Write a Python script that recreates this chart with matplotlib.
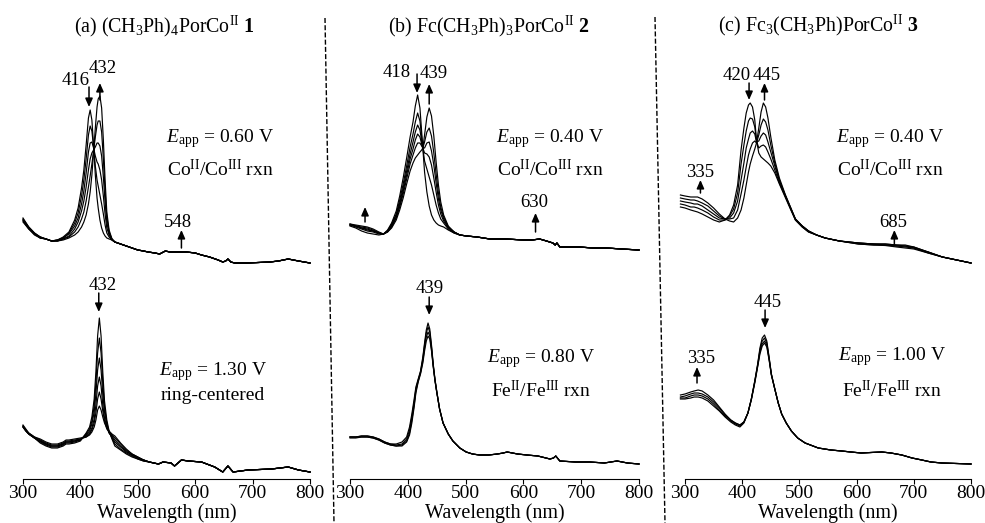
import matplotlib
matplotlib.use("Agg")
import matplotlib.pyplot as plt
from matplotlib.lines import Line2D

plt.rcParams['font.family'] = ['Liberation Serif', 'DejaVu Serif']
plt.rcParams['mathtext.fontset'] = 'custom'
plt.rcParams['mathtext.rm'] = 'Liberation Serif'
plt.rcParams['mathtext.it'] = 'Liberation Serif:italic'
plt.rcParams['mathtext.bf'] = 'Liberation Serif:bold'

# ---------------- data (absorbance, arbitrary units) ----------------
# (a) top: E = 0.60 V, Co(II)/Co(III)
wl_a_top = [300, 310, 320, 330, 340, 350, 360, 370, 380, 390, 396, 402, 406, 410, 414, 417,
            420, 423, 426, 429, 431, 434, 437, 440, 443, 446, 450, 455]
a_top = [
    [.52, .43, .37, .33, .31, .29, .30, .33, .38, .50, .62, .82, 1.00, 1.25, 1.52, 1.60,
     1.50, 1.24, .95, .72, .62, .50, .42, .37, .34, .32, .31, .30],
    [.51, .43, .37, .33, .31, .29, .30, .32, .37, .47, .57, .74, .90, 1.11, 1.35, 1.44,
     1.39, 1.23, 1.04, .90, .84, .75, .66, .56, .45, .37, .33, .30],
    [.50, .42, .36, .33, .31, .29, .30, .32, .36, .44, .52, .66, .79, .97, 1.18, 1.27,
     1.28, 1.22, 1.14, 1.08, 1.06, 1.00, .90, .74, .56, .42, .35, .30],
    [.50, .42, .36, .32, .31, .29, .29, .31, .34, .41, .48, .59, .69, .83, 1.00, 1.11,
     1.17, 1.20, 1.23, 1.27, 1.27, 1.24, 1.14, .93, .68, .48, .36, .31],
    [.49, .41, .36, .32, .31, .29, .29, .31, .33, .38, .43, .51, .58, .69, .83, .94,
     1.06, 1.19, 1.33, 1.45, 1.49, 1.49, 1.38, 1.11, .79, .53, .38, .31],
    [.48, .41, .35, .32, .31, .29, .29, .30, .32, .35, .38, .43, .48, .55, .66, .78,
     .95, 1.18, 1.42, 1.63, 1.71, 1.74, 1.62, 1.30, .90, .58, .40, .31],
]
wl_a_top_tail = [460, 470, 480, 490, 500, 510, 518, 530, 538, 548, 556, 570, 585, 600, 611,
                 625, 640, 648, 653, 657, 662, 669, 690, 710, 730, 745, 762, 780, 800]
a_top_tail = [.28, .26, .24, .22, .20, .19, .18, .17, .16, .19, .18, .18, .18, .17, .15,
              .13, .10, .08, .09, .11, .08, .07, .07, .075, .08, .09, .11, .09, .07]

# (a) bottom: E = 1.30 V, ring-centered
wl_a_bot = [300, 305, 310, 320, 330, 340, 350, 360, 370, 375, 380, 390, 400, 410, 416, 420,
            424, 427, 430, 433, 436, 439, 442, 446, 450, 455, 460, 470, 480, 490, 500, 510, 520]
a_bot = [
    [.52, .48, .45, .41, .36, .33, .31, .31, .33, .35, .35, .36, .38, .46, .52, .62,
     .80, 1.07, 1.43, 1.61, 1.43, 1.07, .78, .59, .48, .40, .33, .29, .25, .22, .20, .18, .17],
    [.52, .48, .45, .41, .37, .34, .32, .32, .34, .36, .36, .37, .39, .45, .50, .58,
     .73, .96, 1.26, 1.41, 1.26, .96, .72, .56, .47, .41, .35, .30, .26, .23, .20, .18, .17],
    [.52, .48, .45, .41, .38, .35, .33, .33, .35, .37, .37, .38, .39, .44, .48, .55,
     .67, .85, 1.09, 1.21, 1.09, .85, .67, .54, .46, .42, .37, .32, .27, .24, .21, .19, .17],
    [.53, .49, .45, .41, .38, .35, .33, .33, .35, .37, .37, .38, .40, .43, .46, .51,
     .60, .74, .93, 1.02, .93, .74, .61, .52, .46, .43, .39, .33, .28, .24, .21, .19, .17],
    [.53, .49, .46, .42, .39, .36, .34, .34, .36, .38, .38, .39, .40, .42, .45, .49,
     .56, .66, .80, .87, .80, .68, .58, .50, .47, .44, .41, .35, .29, .25, .22, .19, .17],
    [.54, .50, .46, .42, .40, .37, .35, .35, .37, .39, .39, .40, .41, .42, .44, .47,
     .52, .59, .69, .73, .69, .62, .56, .51, .48, .45, .43, .36, .30, .25, .22, .19, .17],
]
wl_a_bot_tail = [536, 544, 558, 564, 576, 588, 611, 634, 648, 657, 666, 692, 733, 762, 780, 800]
a_bot_tail = [.15, .17, .16, .13, .19, .18, .17, .12, .07, .13, .07, .09, .10, .12, .09, .07]

# (b) top: E = 0.40 V, Co(II)/Co(III)
wl_b_top = [300, 310, 320, 330, 340, 350, 358, 365, 372, 380, 386, 392, 398, 404, 409, 413, 417,
            421, 424, 426, 429, 433, 437, 441, 445, 449, 453, 457, 462, 470, 480, 490, 502]
b_top = [
    [.44, .42, .39, .37, .36, .35, .36, .40, .47, .59, .74, .92, 1.12, 1.33, 1.48, 1.64, 1.75,
     1.62, 1.38, 1.22, .98, .78, .64, .55, .50, .47, .45, .44, .43, .40, .37, .35, .34],
    [.45, .43, .41, .39, .38, .36, .36, .39, .46, .56, .70, .86, 1.04, 1.23, 1.36, 1.48, 1.57,
     1.49, 1.33, 1.22, 1.09, 1.01, .93, .85, .75, .65, .57, .51, .47, .41, .37, .35, .34],
    [.45, .44, .42, .40, .39, .37, .36, .39, .45, .55, .67, .82, .99, 1.16, 1.28, 1.38, 1.45,
     1.40, 1.29, 1.22, 1.17, 1.16, 1.13, 1.05, .92, .78, .65, .56, .49, .42, .38, .35, .34],
    [.45, .44, .42, .41, .39, .37, .36, .39, .44, .53, .65, .79, .95, 1.11, 1.21, 1.30, 1.36,
     1.33, 1.26, 1.22, 1.22, 1.27, 1.28, 1.19, 1.05, .87, .71, .60, .51, .43, .38, .35, .34],
    [.46, .44, .43, .42, .40, .37, .36, .38, .43, .52, .63, .76, .91, 1.06, 1.15, 1.22, 1.27,
     1.27, 1.24, 1.22, 1.28, 1.38, 1.42, 1.34, 1.17, .96, .77, .63, .53, .43, .38, .35, .34],
    [.46, .45, .44, .43, .41, .38, .36, .38, .42, .50, .60, .72, .86, .99, 1.07, 1.12, 1.15,
     1.18, 1.20, 1.22, 1.35, 1.53, 1.62, 1.54, 1.34, 1.08, .85, .68, .55, .44, .38, .35, .34],
]
wl_b_top_tail = [520, 542, 570, 600, 615, 628, 640, 651, 655, 658, 663, 680, 697, 720, 744, 770, 800]
b_top_tail = [.33, .31, .31, .30, .30, .31, .29, .27, .25, .27, .23, .23, .23, .22, .22, .21, .20]

# (b) bottom: E = 0.80 V, Fe(II)/Fe(III)
wl_b_bot = [300, 310, 320, 330, 340, 350, 360, 370, 380, 390, 398, 403, 407, 411, 414, 418,
            422, 426, 429, 432, 435, 438, 441, 444, 447, 450]
b_bot = [
    [.42, .42, .43, .43, .42, .40, .37, .35, .35, .37, .42, .52, .65, .80, .92, 1.00,
     1.08, 1.22, 1.36, 1.49, 1.56, 1.50, 1.34, 1.15, 1.00, .88],
    [.42, .42, .43, .43, .42, .40, .37, .35, .34, .35, .40, .49, .62, .77, .90, .99,
     1.07, 1.20, 1.34, 1.46, 1.52, 1.47, 1.32, 1.14, .99, .88],
    [.42, .42, .42, .42, .41, .39, .36, .34, .33, .34, .38, .46, .59, .74, .88, .98,
     1.06, 1.18, 1.31, 1.42, 1.47, 1.43, 1.30, 1.13, .99, .87],
    [.41, .41, .42, .42, .41, .39, .36, .34, .33, .33, .37, .44, .56, .72, .86, .97,
     1.05, 1.16, 1.28, 1.38, 1.43, 1.40, 1.28, 1.12, .98, .87],
]
wl_b_bot_tail = [455, 461, 470, 478, 490, 501, 512, 524, 540, 555, 565, 572, 590, 606, 625,
                 646, 652, 656, 663, 690, 715, 740, 762, 780, 800]
b_bot_tail = [.70, .56, .45, .38, .31, .27, .25, .24, .24, .25, .26, .27, .25, .24, .23,
              .20, .21, .23, .18, .17, .17, .16, .18, .16, .15]

# (c) top: E = 0.40 V, Co(II)/Co(III)
wl_c_top = [292, 300, 310, 316, 322, 330, 340, 350, 360, 370, 378, 385, 392, 398, 403, 407,
            411, 414, 418, 422, 425, 429, 433, 437, 441, 445, 450, 457, 465, 475, 485, 493,
            505, 516, 530, 545, 570, 603, 630, 650, 670, 685, 700, 725, 750, 775, 800]
c_top = [
    [.63, .62, .60, .59, .58, .56, .53, .50, .48, .50, .55, .65, .85, 1.20, 1.42, 1.57,
     1.65, 1.67, 1.63, 1.50, 1.30, 1.17, 1.13, 1.11, 1.09, 1.07, 1.04, .97, .86, .73, .60, .50,
     .43, .38, .35, .32, .29, .26, .25, .245, .23, .22, .21, .17, .13, .10, .07],
    [.66, .65, .63, .63, .62, .60, .57, .53, .50, .50, .54, .61, .77, 1.06, 1.25, 1.39,
     1.49, 1.52, 1.51, 1.43, 1.29, 1.22, 1.24, 1.25, 1.23, 1.18, 1.11, 1.00, .87, .74, .61, .50,
     .43, .38, .35, .32, .29, .26, .25, .25, .24, .23, .22, .17, .13, .10, .07],
    [.69, .68, .67, .66, .66, .64, .60, .56, .52, .51, .52, .57, .69, .90, 1.07, 1.22,
     1.31, 1.37, 1.39, 1.36, 1.28, 1.29, 1.34, 1.37, 1.35, 1.28, 1.18, 1.04, .89, .75, .61, .51,
     .44, .39, .35, .32, .29, .27, .26, .25, .24, .24, .22, .18, .13, .10, .07],
    [.72, .71, .70, .70, .69, .67, .64, .59, .54, .51, .51, .52, .60, .76, .90, 1.03,
     1.15, 1.21, 1.27, 1.29, 1.27, 1.35, 1.45, 1.51, 1.48, 1.40, 1.25, 1.07, .90, .75, .62, .51,
     .44, .39, .35, .32, .29, .27, .26, .26, .25, .24, .23, .18, .13, .10, .07],
    [.75, .74, .73, .73, .73, .71, .67, .62, .56, .51, .49, .48, .52, .60, .72, .85,
     .98, 1.06, 1.14, 1.21, 1.27, 1.42, 1.58, 1.67, 1.63, 1.52, 1.33, 1.10, .92, .76, .62, .51,
     .44, .39, .35, .32, .29, .27, .26, .26, .25, .25, .23, .18, .13, .10, .07],
]

# (c) bottom: E = 1.00 V, Fe(II)/Fe(III)
wl_c_bot = [292, 300, 310, 316, 323, 330, 340, 350, 360, 370, 380, 388, 396, 403, 410, 416,
            422, 427, 431, 435, 439, 443, 447, 451]
c_bot = [
    [.80, .80, .81, .82, .82, .81, .78, .73, .68, .62, .57, .54, .52, .56, .66, .80,
     .98, 1.15, 1.31, 1.41, 1.44, 1.38, 1.22, 1.05],
    [.81, .81, .83, .84, .84, .83, .80, .75, .69, .63, .58, .55, .53, .57, .66, .80,
     .98, 1.14, 1.29, 1.38, 1.41, 1.36, 1.21, 1.05],
    [.82, .83, .85, .86, .86, .85, .82, .77, .71, .64, .59, .56, .54, .57, .66, .80,
     .97, 1.13, 1.27, 1.35, 1.38, 1.34, 1.20, 1.04],
    [.84, .85, .87, .88, .89, .88, .84, .79, .72, .65, .59, .56, .54, .57, .66, .79,
     .96, 1.12, 1.25, 1.33, 1.36, 1.32, 1.19, 1.04],
]
wl_c_bot_tail = [457, 463, 469, 477, 486, 497, 510, 533, 555, 574, 590, 608, 625, 644, 660,
                 679, 697, 714, 730, 749, 775, 800]
c_bot_tail = [.90, .76, .65, .56, .48, .41, .36, .31, .29, .28, .27, .26, .265, .27, .26,
              .24, .21, .19, .17, .16, .155, .15]

titles = [r"(a) (CH$_3$Ph)$_4$PorCo$^{\rm II}$ $\mathbf{1}$",
          r"(b) Fc(CH$_3$Ph)$_3$PorCo$^{\rm II}$ $\mathbf{2}$",
          r"(c) Fc$_3$(CH$_3$Ph)PorCo$^{\rm II}$ $\mathbf{3}$"]
top_notes = [(r"$E_{\rm app}$ = 0.60 V", r"Co$^{\rm II}$/Co$^{\rm III}$ rxn"),
             (r"$E_{\rm app}$ = 0.40 V", r"Co$^{\rm II}$/Co$^{\rm III}$ rxn"),
             (r"$E_{\rm app}$ = 0.40 V", r"Co$^{\rm II}$/Co$^{\rm III}$ rxn")]
bot_notes = [(r"$E_{\rm app}$ = 1.30 V", "ring-centered"),
             (r"$E_{\rm app}$ = 0.80 V", r"Fe$^{\rm II}$/Fe$^{\rm III}$ rxn"),
             (r"$E_{\rm app}$ = 1.00 V", r"Fe$^{\rm II}$/Fe$^{\rm III}$ rxn")]

# peak labels: (text, x, y) and arrows: (x, y_tail, y_head)
top_labels = [[("416", 392, 1.85), ("432", 439, 1.97), ("548", 570, .43)],
              [("418", 381, 1.93), ("439", 445, 1.92), ("630", 618, .63)],
              [("420", 390, 1.90), ("445", 443, 1.90), ("335", 326, .93), ("685", 664, .43)]]
top_arrows = [[(415, 1.83, 1.63), (434, 1.70, 1.87), (576, .22, .40)],
              [(416, 1.96, 1.77), (437, 1.66, 1.86), (326, .48, .63), (621, .38, .57)],
              [(412, 1.87, 1.70), (439, 1.70, 1.87), (327, .77, .90), (666, .25, .40)]]
bot_labels = [[("432", 438, 1.89)],
              [("439", 438, 1.86)],
              [("445", 444, 1.72), ("335", 329, 1.16)]]
bot_arrows = [[(432, 1.86, 1.67)],
              [(437, 1.82, 1.64)],
              [(440, 1.69, 1.51), (321, .96, 1.12)]]

# ---------------- figure ----------------
W, H = 985, 523
fig = plt.figure(figsize=(W / 100, H / 100), dpi=100)

cols = [(23, 310), (350, 639), (685, 971)]
note_x = [(220, 213), (550, 541), (890, 892)]
bot_base = [(375, 400), (362, 397), (360, 397)]
title_pos = [(164, 32), (489, 32), (818, 31)]


def ftext(px, py, s, **kw):
    fig.text(px / W, 1 - py / H, s, **kw)


def draw(ax, wl, curves, wl_tail=None, tail=None):
    for c in curves:
        x = list(wl) + (wl_tail or [])
        y = list(c) + (tail or [])
        ax.plot(x, y, color='black', lw=0.85, clip_on=False)


def marks(ax, labels, arrows):
    for s, x, y in labels:
        ax.text(x, y, s, ha='center', va='baseline', fontsize=13.5)
    for x, y0, y1 in arrows:
        ax.annotate('', xy=(x, y1), xytext=(x, y0),
                    arrowprops=dict(arrowstyle='-|>,head_length=0.5,head_width=0.22',
                                    lw=1.1, color='black', shrinkA=0, shrinkB=0,
                                    mutation_scale=10))


top_data = [(wl_a_top, a_top, wl_a_top_tail, a_top_tail),
            (wl_b_top, b_top, wl_b_top_tail, b_top_tail),
            (wl_c_top, c_top, None, None)]
bot_data = [(wl_a_bot, a_bot, wl_a_bot_tail, a_bot_tail),
            (wl_b_bot, b_bot, wl_b_bot_tail, b_bot_tail),
            (wl_c_bot, c_bot, wl_c_bot_tail, c_bot_tail)]

for i, (x0, x1) in enumerate(cols):
    axt = fig.add_axes([x0 / W, 1 - 270 / H, (x1 - x0) / W, 200 / H])
    axb = fig.add_axes([x0 / W, 1 - 479 / H, (x1 - x0) / W, 200 / H])
    for ax in (axt, axb):
        ax.set_xlim(300, 800)
        ax.set_ylim(0, 2)
        ax.patch.set_alpha(0)
    axt.axis('off')
    for sp in ('top', 'left', 'right'):
        axb.spines[sp].set_visible(False)
    axb.spines['bottom'].set_linewidth(0.8)
    axb.set_yticks([])
    axb.set_xticks([300, 400, 500, 600, 700, 800])
    axb.tick_params(axis='x', direction='out', length=3.5, width=0.8, pad=1, labelsize=14)
    axb.set_xlabel('Wavelength (nm)', fontsize=14.5, labelpad=1)

    draw(axt, *top_data[i])
    draw(axb, *bot_data[i])
    marks(axt, top_labels[i], top_arrows[i])
    marks(axb, bot_labels[i], bot_arrows[i])

    ftext(title_pos[i][0], title_pos[i][1], titles[i], ha='center', va='baseline', fontsize=14.3)
    ftext(note_x[i][0], 142, top_notes[i][0], ha='center', va='baseline', fontsize=14)
    ftext(note_x[i][0], 176, top_notes[i][1], ha='center', va='baseline', fontsize=14)
    ftext(note_x[i][1], bot_base[i][0], bot_notes[i][0], ha='center', va='baseline', fontsize=14)
    ftext(note_x[i][1], bot_base[i][1], bot_notes[i][1], ha='center', va='baseline', fontsize=14)

# dashed separators (slightly slanted, as in the scan)
for xa, xb, ya in [(325, 334, 18), (655, 665, 17)]:
    fig.add_artist(Line2D([xa / W, xb / W], [1 - ya / H, 0], color='black', lw=1,
                          ls=(0, (3.6, 1.6))))

fig.savefig('out.png', dpi=100)
